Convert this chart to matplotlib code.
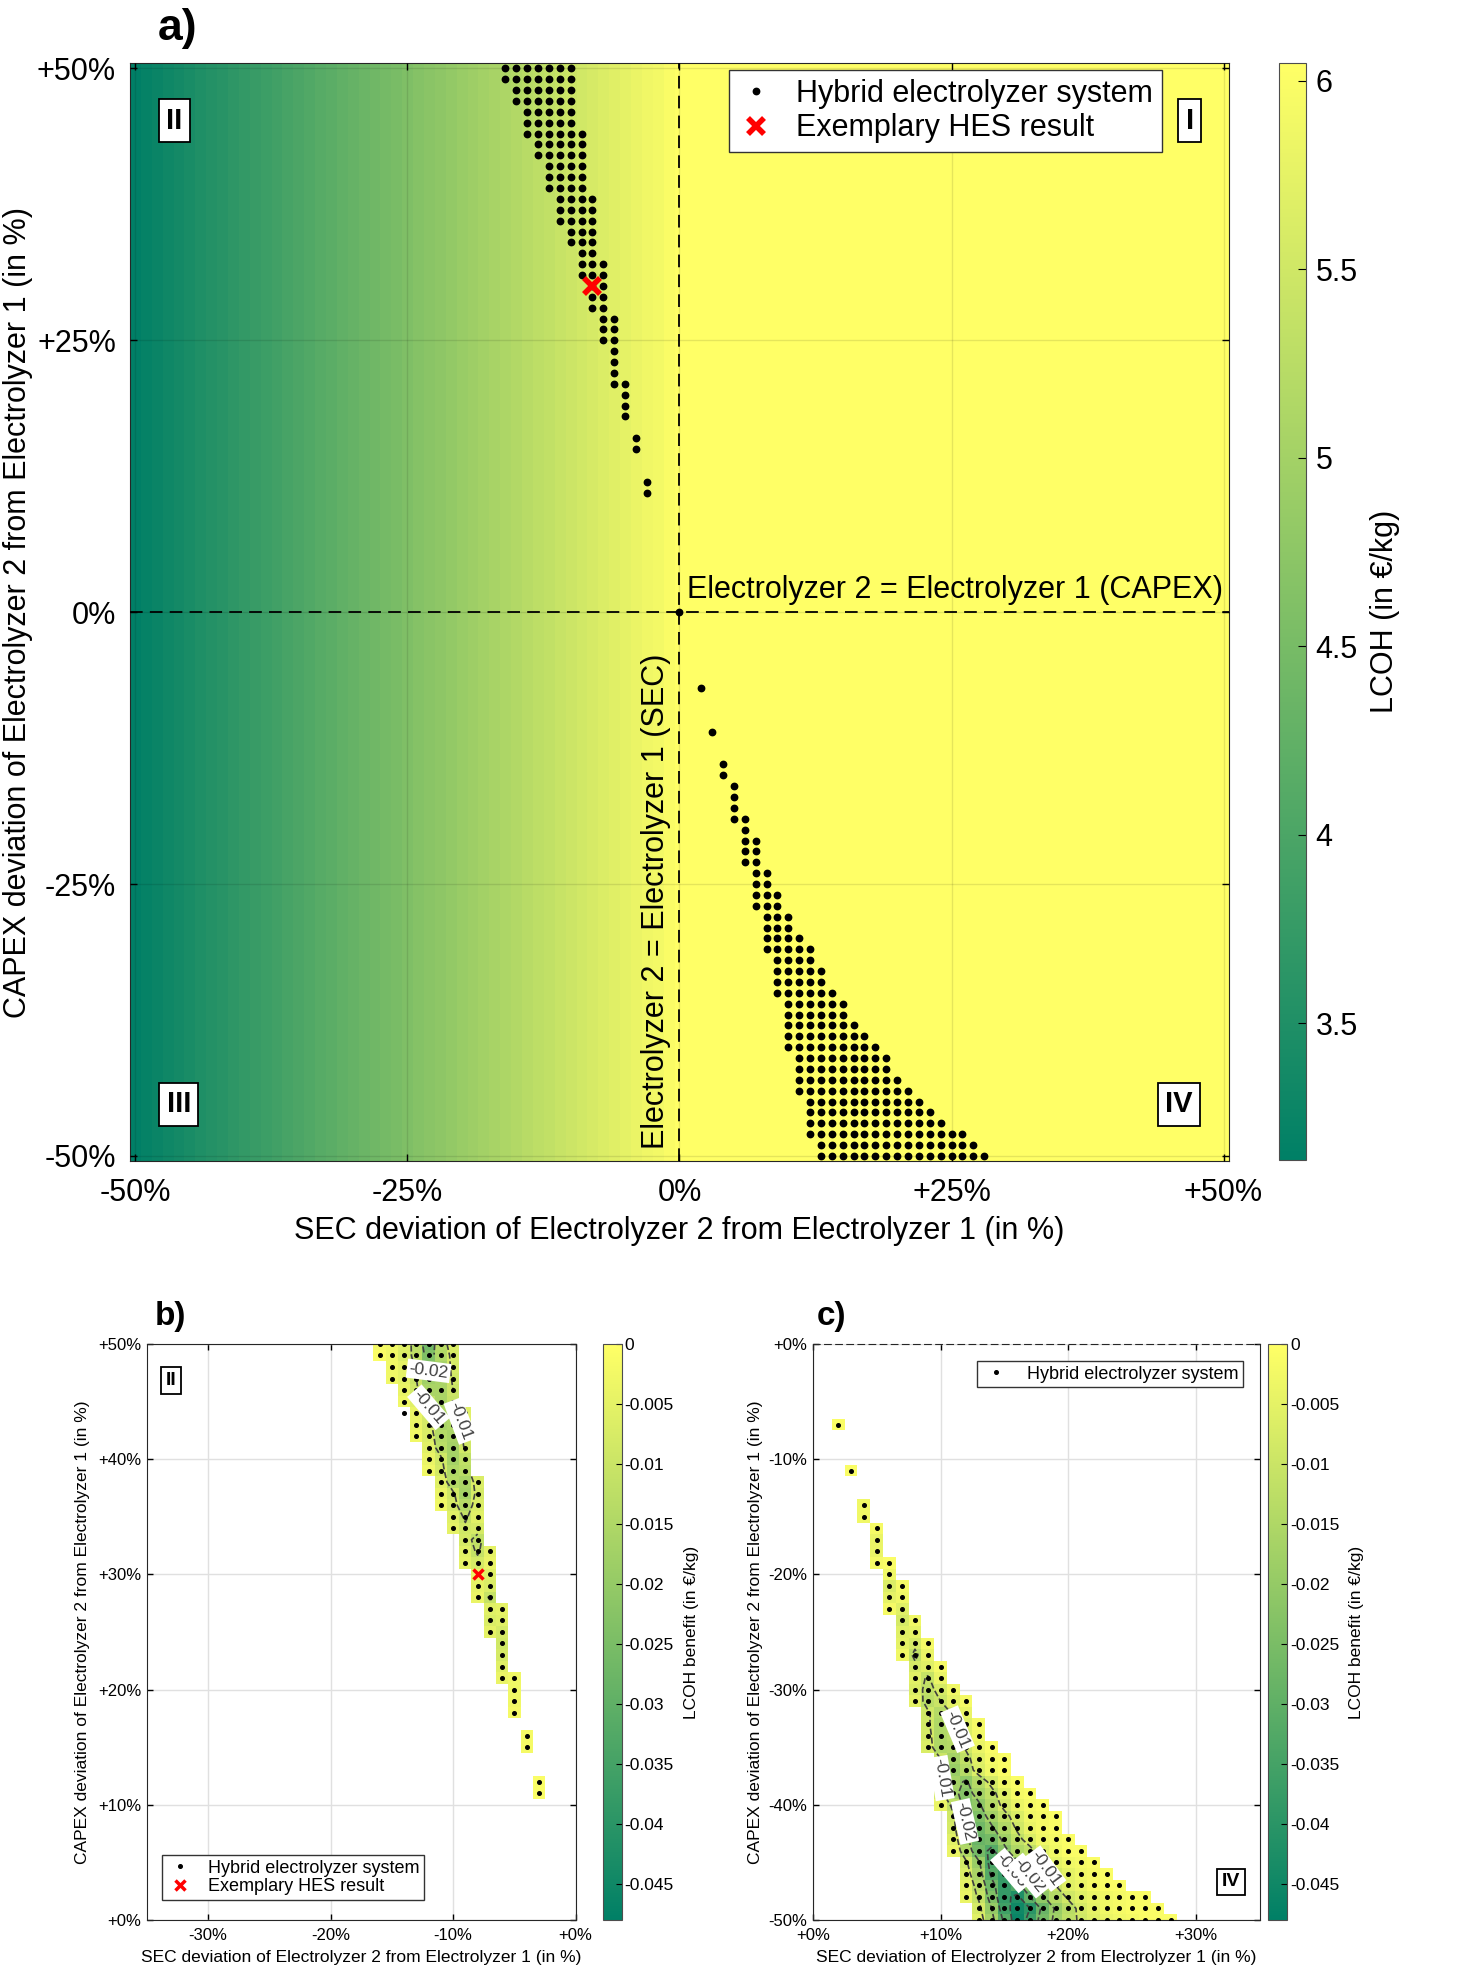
import numpy as np
import matplotlib
matplotlib.use("Agg")
from matplotlib import pyplot as plt
from matplotlib.ticker import FuncFormatter

plt.rcParams['font.family'] = ['Liberation Sans', 'DejaVu Sans']

# ---------------- data ----------------
# LCOH (EUR/kg) per SEC deviation column -50% .. 0%, read from the colours of panel a
lcoh_neg = [3.14, 3.20, 3.26, 3.31, 3.37, 3.43, 3.49, 3.55, 3.60, 3.66,
            3.72, 3.78, 3.84, 3.89, 3.95, 4.01, 4.07, 4.13, 4.18, 4.24,
            4.30, 4.36, 4.42, 4.47, 4.53, 4.59, 4.65, 4.71, 4.76, 4.82,
            4.88, 4.94, 5.00, 5.05, 5.11, 5.17, 5.23, 5.29, 5.34, 5.40,
            5.46, 5.52, 5.58, 5.63, 5.69, 5.75, 5.81, 5.87, 5.92, 5.98, 6.04]
lcoh_pos = 6.05   # SEC > 0 : electrolyzer 1 alone

# hybrid electrolyzer systems in quadrant II: CAPEX row, SEC from .. to (in %)
ii_capex = [50, 49, 48, 47, 46, 45, 44, 43, 42, 41, 40, 39, 38, 37, 36, 35, 34, 33, 32,
            31, 30, 29, 28, 27, 26, 25, 24, 23, 22, 21, 20, 19, 18, 16, 15, 12, 11]
ii_sec_lo = [-16, -16, -15, -15, -14, -14, -14, -13, -13, -12, -12, -12, -11, -11, -11, -10, -10, -9, -9,
             -9, -8, -8, -8, -7, -7, -7, -6, -6, -6, -6, -5, -5, -5, -4, -4, -3, -3]
ii_sec_hi = [-10, -10, -10, -10, -10, -10, -9, -9, -9, -9, -9, -9, -8, -8, -8, -8, -8, -8, -7,
             -7, -7, -7, -7, -6, -6, -6, -6, -6, -6, -5, -5, -5, -5, -4, -4, -3, -3]
# LCOH benefit in 1e-3 EUR/kg (shown negative), one list per row
ii_benefit = [[2, 3, 6, 13, 27, 13, 7], [1, 3, 7, 12, 24, 15, 8], [3, 5, 11, 21, 17, 8],
              [3, 5, 10, 18, 16, 9], [4, 9, 16, 16, 10], [3, 6, 12, 16, 11],
              [np.nan, 4, 8, 15, 14, 6], [4, 8, 16, 15, 7], [3, 7, 14, 16, 8],
              [6, 13, 17, 9], [4, 9, 17, 12], [3, 8, 15, 13], [6, 14, 16, 7],
              [4, 9, 17, 8], [3, 8, 14, 7], [6, 11, 6], [5, 9, 8], [8, 12],
              [6, 11, 5], [5, 8, 4], [4, 6], [5, 7], [4, 11], [6, 5], [7, 6], [5, 8],
              [9], [8], [6], [4, 3], [3], [3], [2], [2], [2], [1], [1]]

# hybrid electrolyzer systems in quadrant IV
iv_capex = [-7, -11, -14, -15, -16, -17, -18, -19, -20, -21, -22, -23, -24, -25, -26, -27, -28,
            -29, -30, -31, -32, -33, -34, -35, -36, -37, -38, -39, -40, -41, -42, -43, -44,
            -45, -46, -47, -48, -49, -50]
iv_sec_lo = [2, 3, 4, 4, 5, 5, 5, 5, 6, 6, 6, 6, 7, 7, 7, 7, 8, 8, 8, 8, 9, 9, 9, 9,
             10, 10, 10, 10, 10, 11, 11, 11, 11, 12, 12, 12, 12, 13, 13]
iv_sec_hi = [2, 3, 4, 4, 5, 5, 5, 6, 6, 7, 7, 7, 8, 8, 9, 9, 10, 10, 11, 12, 12, 13, 13, 14,
             15, 15, 16, 17, 18, 19, 19, 20, 21, 22, 23, 24, 26, 27, 28]
iv_benefit = [[1], [1], [3], [3], [2], [4], [4], [2, 1], [3], [7, 2], [5, 3], [2, 6],
              [8, 3], [6, 5], [5, 8, 2], [3, 12, 4], [8, 6, 2], [6, 11, 4],
              [7, 12, 8, 3], [5, 13, 10, 5, 2], [9, 14, 9, 4], [9, 15, 11, 6, 2],
              [8, 15, 13, 7, 3], [7, 15, 14, 9, 4, 1], [10, 17, 12, 6, 2, 1],
              [10, 19, 14, 7, 3, 1], [9, 17, 21, 14, 8, 3, 1], [8, 18, 23, 17, 12, 6, 2, 1],
              [4, 12, 24, 21, 14, 8, 4, 2, 1], [9, 22, 24, 17, 12, 7, 3, 2, 1],
              [8, 20, 27, 21, 15, 9, 4, 2, 1], [6, 18, 28, 26, 18, 12, 7, 3, 2, 1],
              [4, 15, 26, 32, 22, 15, 12, 6, 3, 1, 1], [9, 19, 34, 30, 21, 14, 9, 5, 3, 2, 1],
              [7, 16, 32, 38, 28, 19, 13, 8, 5, 3, 2, 1],
              [5, 13, 27, 38, 33, 23, 16, 10, 6, 4, 2, 1, 1],
              [4, 11, 24, 38, 42, 30, 21, 14, 9, 6, 4, 3, 2, 1, 1],
              [8, 20, 36, 45, 40, 28, 19, 13, 8, 5, 3, 2, 1, 1, 1],
              [6, 17, 32, 46, 37, 26, 18, 12, 9, 6, 4, 3, 2, 1, 1, 1]]

example_sec, example_capex = -8, 30

fs_a = 22
fs_small = 12
fs_lab = 12.5
sec_label = "SEC deviation of Electrolyzer 2 from Electrolyzer 1 (in %)"
capex_label = "CAPEX deviation of Electrolyzer 2 from Electrolyzer 1 (in %)"


def rows_to_points(capex, lo, hi):
    xs, ys = [], []
    for c, a, b in zip(capex, lo, hi):
        for s in range(a, b + 1):
            xs.append(s)
            ys.append(c)
    return np.array(xs), np.array(ys)


def rows_to_grid(capex, lo, hi, vals):
    xg = np.arange(min(lo), max(hi) + 1)
    yg = np.arange(min(capex), max(capex) + 1)
    Z = np.full((len(yg), len(xg)), np.nan)
    for c, a, b, v in zip(capex, lo, hi, vals):
        Z[c - yg[0], a - xg[0]:b - xg[0] + 1] = -np.array(v, float) / 1000
    return xg, yg, Z


def quadrant_tag(ax, x, y, s, size):
    ax.text(x, y, s, fontsize=size, fontweight='bold', ha='center', va='center', zorder=6,
            bbox=dict(boxstyle='square,pad=0.25', facecolor='white', edgecolor='k', lw=1.3))


def pct(v, pos=None):
    return "%+d%%" % v if v != 0 else "+0%"


ii_x, ii_y = rows_to_points(ii_capex, ii_sec_lo, ii_sec_hi)
iv_x, iv_y = rows_to_points(iv_capex, iv_sec_lo, iv_sec_hi)

fig = plt.figure(figsize=(14.57, 19.85), dpi=100)

# ---------------- panel a ----------------
ax = fig.add_axes([0.0892, 0.4149, 0.7543, 0.5534])
lcoh_row = np.array(lcoh_neg + [lcoh_pos] * 50)
Z_a = np.tile(lcoh_row, (101, 1))
im = ax.imshow(Z_a, extent=[-50.5, 50.5, -50.5, 50.5], origin='lower', cmap='summer',
               vmin=3.137, vmax=6.047, aspect='auto', interpolation='nearest', zorder=0)
ax.set_xlim(-50.5, 50.5)
ax.set_ylim(-50.5, 50.5)
ax.grid(True, color='k', alpha=0.1, lw=1)
ax.set_axisbelow(False)
ax.axhline(0, color='k', ls=(0, (7, 4)), lw=1.3, zorder=3)
ax.axvline(0, color='k', ls=(0, (7, 4)), lw=1.3, zorder=3)
all_x = np.concatenate([ii_x, [0], iv_x])
all_y = np.concatenate([ii_y, [0], iv_y])
ax.plot(all_x, all_y, 'o', color='k', ms=4.6, ls='none', zorder=4,
        label='Hybrid electrolyzer system')
ax.plot(example_sec, example_capex, 'x', color='red', ms=12, mew=4, ls='none', zorder=5,
        label='Exemplary HES result')
ticks = [-50, -25, 0, 25, 50]
ax.set_xticks(ticks)
ax.set_xticklabels(['-50%', '-25%', '0%', '+25%', '+50%'])
ax.set_yticks(ticks)
ax.set_yticklabels(['-50%', '-25%', '0%', '+25%', '+50%'])
ax.tick_params(labelsize=fs_a, direction='in', top=True, right=True, length=5, width=1)
ax.tick_params(axis='x', pad=12)
ax.tick_params(axis='y', pad=10)
ax.set_xlabel(sec_label, fontsize=fs_a, labelpad=6)
ax.set_ylabel(capex_label, fontsize=fs_a, labelpad=3)
for sp in ax.spines.values():
    sp.set_color('0.15')
ax.text(0.7, 0.7, 'Electrolyzer 2 = Electrolyzer 1 (CAPEX)', fontsize=fs_a,
        ha='left', va='bottom', zorder=6)
ax.text(-0.8, -49.4, 'Electrolyzer 2 = Electrolyzer 1 (SEC)', fontsize=fs_a,
        rotation=90, ha='right', va='bottom', zorder=6)
quadrant_tag(ax, -46.4, 45.2, 'II', 21)
quadrant_tag(ax, 46.9, 45.2, 'I', 21)
quadrant_tag(ax, -46.0, -45.25, 'III', 21)
quadrant_tag(ax, 45.9, -45.25, 'IV', 21)
leg = ax.legend(loc='upper right', bbox_to_anchor=(0.939, 0.994), fontsize=fs_a,
                fancybox=False, edgecolor='0.2', framealpha=1, handlelength=1.2,
                handletextpad=0.7, borderpad=0.3, labelspacing=0.15, borderaxespad=0)
leg.get_frame().set_linewidth(1.0)
leg.set_zorder(7)

cax = fig.add_axes([0.8778, 0.4156, 0.01853, 0.5526])
cb = fig.colorbar(im, cax=cax, ticks=[3.5, 4, 4.5, 5, 5.5, 6])
cb.ax.yaxis.set_major_formatter(FuncFormatter(lambda v, p: "%g" % v))
cb.ax.tick_params(labelsize=fs_a, direction='in', length=6, pad=7)
cb.outline.set_edgecolor('0.3')
cb.set_label('LCOH (in €/kg)', fontsize=fs_a, labelpad=9)

fig.text(0.1085, 0.996, 'a)', fontsize=32, fontweight='bold', va='top')


# ---------------- panels b and c ----------------
def small_panel(rect, crect, capex, lo, hi, vals, levels, manual, xlim, ylim, xt, yt):
    ax = fig.add_axes(rect)
    xg, yg, Z = rows_to_grid(capex, lo, hi, vals)
    pc = ax.pcolormesh(xg, yg, Z, shading='nearest', cmap='summer', vmin=-0.048, vmax=0,
                       zorder=1)
    cs = ax.contour(xg, yg, np.ma.masked_invalid(Z), levels=levels, colors='0.25',
                    linewidths=1.2, zorder=2)
    texts = ax.clabel(cs, fmt='%g', fontsize=12.5, inline=True, inline_spacing=6,
                      manual=manual)
    for t in texts:
        t.set_bbox(dict(facecolor='white', edgecolor='none', pad=1.5))
        t.set_zorder(5)
    px, py = rows_to_points(capex, lo, hi)
    ax.plot(px, py, 'o', color='k', ms=2.6, ls='none', zorder=3,
            label='Hybrid electrolyzer system')
    ax.set_xlim(*xlim)
    ax.set_ylim(*ylim)
    ax.set_xticks(xt)
    ax.set_xticklabels([pct(v) for v in xt])
    ax.set_yticks(yt)
    ax.set_yticklabels([pct(v) for v in yt])
    ax.grid(True, color='0.88', lw=1)
    ax.set_axisbelow(True)
    ax.tick_params(labelsize=fs_small, direction='in', top=True, right=True, length=4,
                   width=1, pad=4)
    ax.tick_params(axis='x', pad=6)
    ax.set_xlabel(sec_label, fontsize=fs_lab, labelpad=5)
    for sp in ax.spines.values():
        sp.set_color('0.15')
    cax = fig.add_axes(crect)
    cbar = fig.colorbar(pc, cax=cax, ticks=np.arange(0, -0.0451, -0.005))
    cbar.ax.yaxis.set_major_formatter(FuncFormatter(lambda v, p: "%g" % round(v, 3)))
    cbar.ax.tick_params(labelsize=fs_lab, direction='in', length=4, pad=2)
    cbar.outline.set_edgecolor('0.3')
    cbar.set_label('LCOH benefit (in €/kg)', fontsize=fs_lab, labelpad=7)
    return ax


ax_b = small_panel([0.1007, 0.03275, 0.2944, 0.2902], [0.4137, 0.03275, 0.013, 0.2902],
                   ii_capex, ii_sec_lo, ii_sec_hi, ii_benefit, [-0.02, -0.01],
                   [(-11.9, 46.8), (-11.9, 44.8), (-9.8, 43.1)],
                   (-35, 0), (0, 50), [-30, -20, -10, 0], [0, 10, 20, 30, 40, 50])
ax_b.plot(example_sec, example_capex, 'x', color='red', ms=7, mew=2.5, ls='none', zorder=4,
          label='Exemplary HES result')
ax_b.set_ylabel(capex_label, fontsize=fs_lab, labelpad=6)
quadrant_tag(ax_b, -33.0, 46.8, 'II', 14)
ax_b.legend(loc='lower left', bbox_to_anchor=(0.0357, 0.0347), fontsize=13, fancybox=False,
            edgecolor='0.2', framealpha=1, handlelength=1.5, handletextpad=0.8,
            borderpad=0.25, labelspacing=0.1, borderaxespad=0)

ax_c = small_panel([0.5578, 0.03275, 0.307, 0.2902], [0.8705, 0.03275, 0.013, 0.2902],
                   iv_capex, iv_sec_lo, iv_sec_hi, iv_benefit, [-0.04, -0.03, -0.02, -0.01],
                   [(11.0, -33.6), (10.5, -37.6), (12.1, -41.4), (15.1, -46.3),
                    (16.6, -46.4), (18.1, -45.7)],
                   (0, 35), (-50, 0), [0, 10, 20, 30], [-50, -40, -30, -20, -10, 0])
ax_c.set_ylabel(capex_label, fontsize=fs_lab, labelpad=4)
ax_c.spines['top'].set_linestyle((0, (6, 4)))
quadrant_tag(ax_c, 32.7, -46.7, 'IV', 14)
ax_c.legend(loc='upper right', bbox_to_anchor=(0.962, 0.970), fontsize=13, fancybox=False,
            edgecolor='0.2', framealpha=1, handlelength=1.6, handletextpad=0.9,
            borderpad=0.25, borderaxespad=0)

fig.text(0.106, 0.3446, 'b)', fontsize=24, fontweight='bold', va='top')
fig.text(0.5604, 0.3446, 'c)', fontsize=24, fontweight='bold', va='top')

fig.savefig('out.png', dpi=100)
